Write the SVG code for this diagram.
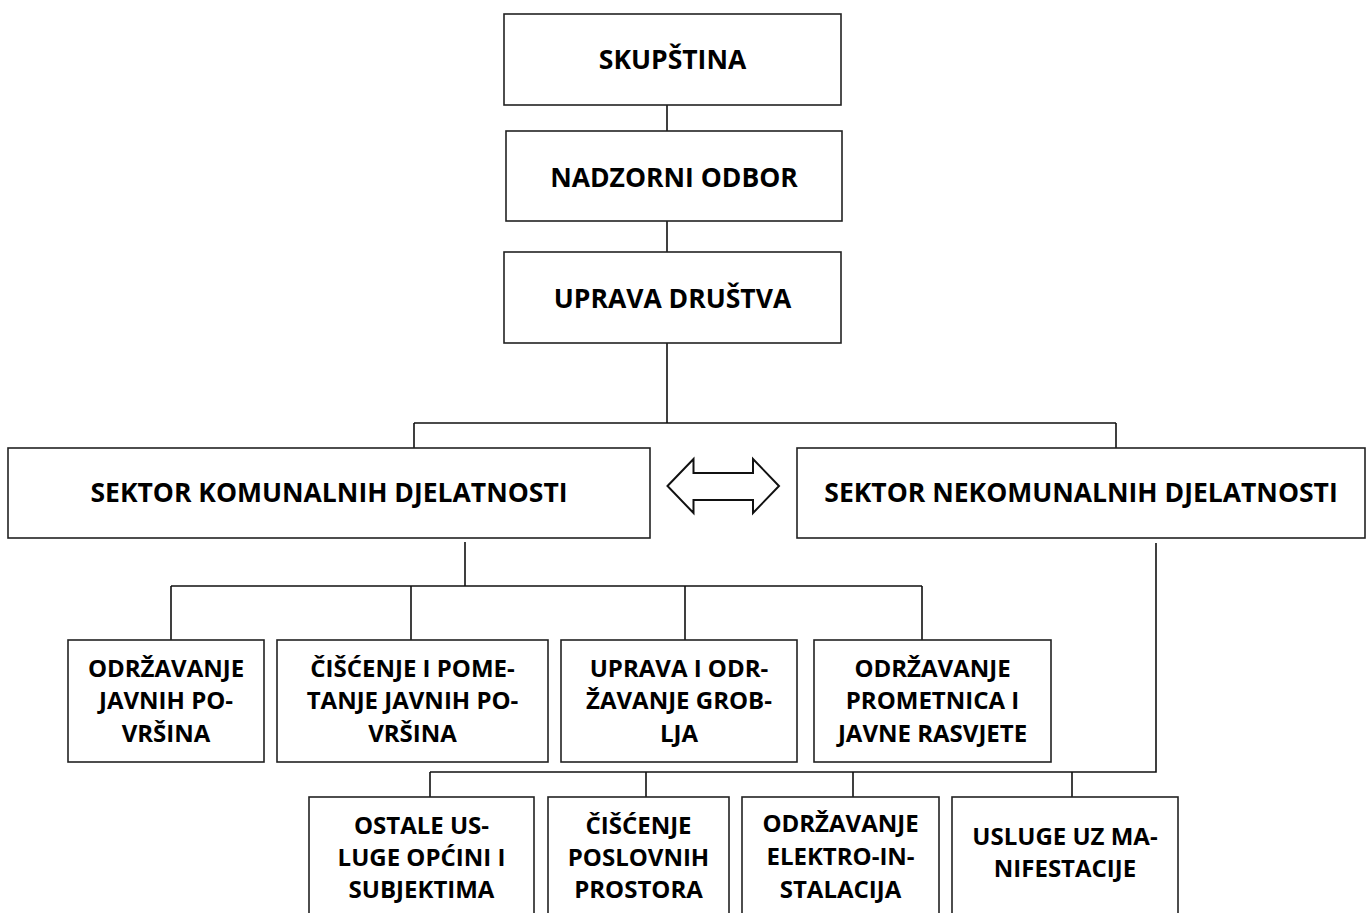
<svg xmlns="http://www.w3.org/2000/svg" width="1369" height="913" viewBox="0 0 1369 913">
<style>
.box{fill:#fff;stroke:#222;stroke-width:1.6}
.t{font-family:"Open Sans","Noto Sans","Liberation Sans",sans-serif;font-weight:bold;fill:#000;text-anchor:middle}
.big{font-size:26.5px}
.sm{font-size:24px}
.c{fill:none;stroke:#111;stroke-width:1.6}
.arr{fill:#fff;stroke:#111;stroke-width:2;stroke-linejoin:miter}
</style>
<rect width="1369" height="913" fill="#fff"/>
<g id="connectors">
<path class="c" d="M667 105V131M667 221V252M667 343V423M414 423H1116M414 423V448M1116 423V448"/>
<path class="c" d="M465 542V586M171 586H922M171 586V640M411 586V640M685 586V640M922 586V640"/>
<path class="c" d="M1156 543V772H430M430 772V797M646 772V797M853 772V797M1072 772V797"/>
<polygon class="arr" points="667.5,486 693.5,459 693.5,473 753,473 753,459 779,486 753,513 753,500 693.5,500 693.5,513"/>
</g>
<g id="skupstina"><rect class="box" x="504" y="14" width="337" height="91"/><text class="t big" x="672.5" y="69">SKUPŠTINA</text></g>
<g id="nadzorni"><rect class="box" x="506" y="131" width="336" height="90"/><text class="t big" x="674" y="187">NADZORNI ODBOR</text></g>
<g id="uprava"><rect class="box" x="504" y="252" width="337" height="91"/><text class="t big" x="672.5" y="308">UPRAVA DRUŠTVA</text></g>
<g id="komunalni"><rect class="box" x="8" y="448" width="642" height="90"/><text class="t big" x="329" y="502">SEKTOR KOMUNALNIH DJELATNOSTI</text></g>
<g id="nekomunalni"><rect class="box" x="797" y="448" width="568" height="90"/><text class="t big" x="1081" y="502">SEKTOR NEKOMUNALNIH DJELATNOSTI</text></g>
<g id="m1"><rect class="box" x="68" y="640" width="196" height="122"/><text class="t sm"><tspan x="166" y="677">ODRŽAVANJE</tspan><tspan x="166" y="709">JAVNIH PO-</tspan><tspan x="166" y="742">VRŠINA</tspan></text></g>
<g id="m2"><rect class="box" x="277" y="640" width="271" height="122"/><text class="t sm"><tspan x="412.5" y="677">ČIŠĆENJE I POME-</tspan><tspan x="412.5" y="709">TANJE JAVNIH PO-</tspan><tspan x="412.5" y="742">VRŠINA</tspan></text></g>
<g id="m3"><rect class="box" x="561" y="640" width="236" height="122"/><text class="t sm"><tspan x="679" y="677">UPRAVA I ODR-</tspan><tspan x="679" y="709">ŽAVANJE GROB-</tspan><tspan x="679" y="742">LJA</tspan></text></g>
<g id="m4"><rect class="box" x="814" y="640" width="237" height="122"/><text class="t sm"><tspan x="932.5" y="677">ODRŽAVANJE</tspan><tspan x="932.5" y="709">PROMETNICA I</tspan><tspan x="932.5" y="742">JAVNE RASVJETE</tspan></text></g>
<g id="b1"><rect class="box" x="309" y="797" width="225" height="140"/><text class="t sm"><tspan x="421.5" y="834">OSTALE US-</tspan><tspan x="421.5" y="866">LUGE OPĆINI I</tspan><tspan x="421.5" y="898">SUBJEKTIMA</tspan></text></g>
<g id="b2"><rect class="box" x="548" y="797" width="181" height="140"/><text class="t sm"><tspan x="638.5" y="834">ČIŠĆENJE</tspan><tspan x="638.5" y="866">POSLOVNIH</tspan><tspan x="638.5" y="898">PROSTORA</tspan></text></g>
<g id="b3"><rect class="box" x="742" y="797" width="197" height="140"/><text class="t sm"><tspan x="840.5" y="832">ODRŽAVANJE</tspan><tspan x="840.5" y="865">ELEKTRO-IN-</tspan><tspan x="840.5" y="898">STALACIJA</tspan></text></g>
<g id="b4"><rect class="box" x="952" y="797" width="226" height="140"/><text class="t sm"><tspan x="1065" y="845">USLUGE UZ MA-</tspan><tspan x="1065" y="877">NIFESTACIJE</tspan></text></g>
</svg>
